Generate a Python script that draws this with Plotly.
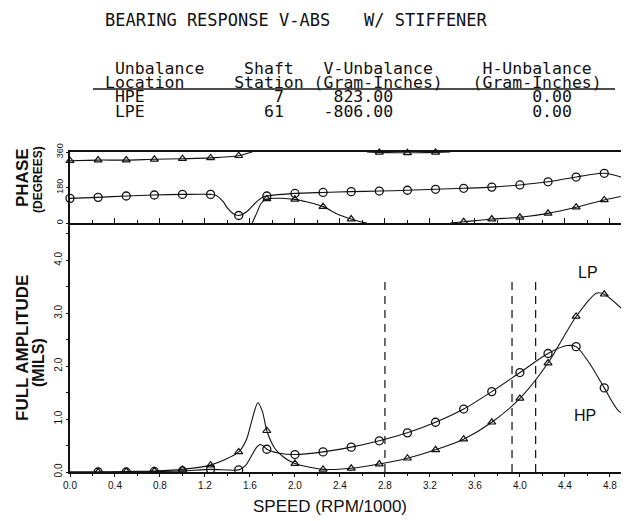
import plotly.graph_objects as go

# ---------------- data ----------------
# phase panel markers (speed in RPM/1000)
phase_marker_speed = [0.0, 0.25, 0.5, 0.75, 1.0, 1.25, 1.5, 1.75, 2.0, 2.25, 2.5,
                      2.75, 3.0, 3.25, 3.5, 3.75, 4.0, 4.25, 4.5, 4.75]
hp_phase_markers = [125, 130, 137, 142, 145, 145, 38, 137, 150, 155, 159,
                    162, 166, 171, 176, 182, 193, 209, 233, 252]
lp_phase_markers = [316, 319, 319, 323, 326, 330, 341, 122, 120, 83, 20,
                    358, 356, 358, 6, 20, 29, 49, 80, 117]

# phase curves
hp_phase_curve_speed = [0.0, 0.25, 0.5, 0.75, 1.0, 1.25, 1.3, 1.36, 1.4, 1.45, 1.5, 1.57,
                        1.66, 1.72, 1.75, 2.0, 2.25, 2.5, 2.75, 3.0, 3.25, 3.5, 3.75, 4.0,
                        4.25, 4.5, 4.62, 4.75, 4.86, 4.97]
hp_phase_curve = [125, 130, 137, 142, 145, 145, 140, 110, 75, 48, 38, 57,
                  108, 133, 137, 150, 155, 159, 162, 166, 171, 176, 182, 193,
                  209, 233, 245, 252, 240, 218]
lp_phase_curve_speed = [0.0, 0.25, 0.5, 0.75, 1.0, 1.25, 1.5, 1.57, 1.62, None,
                        1.62, 1.66, 1.7, 1.75, 2.0, 2.12, 2.25, 2.38, 2.5, 2.58, 2.64, None,
                        2.64, 2.75, 3.0, 3.25, 3.38, None,
                        3.38, 3.5, 3.75, 4.0, 4.25, 4.5, 4.75, 4.97]
lp_phase_curve = [316, 319, 319, 323, 326, 330, 341, 352, 360, None,
                  0, 50, 100, 122, 120, 105, 83, 45, 20, 6, 0, None,
                  360, 358, 356, 358, 360, None,
                  0, 6, 20, 29, 49, 80, 117, 142]

# amplitude panel markers
amp_marker_speed = [0.25, 0.5, 0.75, 1.0, 1.25, 1.5, 1.75, 2.0, 2.25, 2.5,
                    2.75, 3.0, 3.25, 3.5, 3.75, 4.0, 4.25, 4.5, 4.75, 5.0]
hp_amp_markers = [0.0, 0.0, 0.01, 0.02, 0.05, 0.04, 0.43, 0.33, 0.38, 0.47,
                  0.59, 0.74, 0.94, 1.19, 1.52, 1.88, 2.24, 2.37, 1.59, 1.03]
lp_amp_markers = [0.0, 0.01, 0.02, 0.05, 0.13, 0.38, 0.78, 0.16, 0.05, 0.07,
                  0.15, 0.26, 0.42, 0.62, 0.94, 1.39, 2.06, 2.94, 3.36, 2.89]

# amplitude curves
hp_amp_curve_speed = [0.0, 0.25, 0.5, 0.75, 1.0, 1.25, 1.5, 1.56, 1.62, 1.66, 1.69, 1.72,
                      1.75, 1.85, 2.0, 2.25, 2.5, 2.75, 3.0, 3.25, 3.5, 3.75, 4.0, 4.25,
                      4.42, 4.5, 4.62, 4.75, 4.88, 5.0]
hp_amp_curve = [0.0, 0.0, 0.0, 0.01, 0.02, 0.05, 0.04, 0.12, 0.33, 0.47, 0.52, 0.49,
                0.43, 0.36, 0.33, 0.38, 0.47, 0.59, 0.74, 0.94, 1.19, 1.52, 1.88, 2.24,
                2.39, 2.37, 2.05, 1.59, 1.15, 1.03]
lp_amp_curve_speed = [0.0, 0.25, 0.5, 0.75, 1.0, 1.25, 1.5, 1.57, 1.62, 1.67, 1.71, 1.75,
                      1.82, 1.9, 2.0, 2.25, 2.5, 2.75, 3.0, 3.25, 3.5, 3.75, 4.0, 4.25,
                      4.5, 4.68, 4.75, 5.0]
lp_amp_curve = [0.0, 0.0, 0.01, 0.02, 0.05, 0.13, 0.38, 0.62, 1.0, 1.31, 1.15, 0.78,
                0.45, 0.28, 0.16, 0.05, 0.07, 0.15, 0.26, 0.42, 0.62, 0.94, 1.39, 2.06,
                2.94, 3.38, 3.36, 2.89]

critical_speeds = [2.80, 3.93, 4.14]
critical_top = 3.69

# table text: (character column, text) per line
table_header1 = [(1, "Unbalance"), (14, "Shaft"), (22, "V-Unbalance"), (38, "H-Unbalance")]
table_header2 = [(0, "Location"), (13, "Station"), (21, "(Gram-Inches)"), (37, "(Gram-Inches)")]
table_row_hpe = [(1, "HPE"), (17, "7"), (23, "823.00"), (43, "0.00")]
table_row_lpe = [(1, "LPE"), (16, "61"), (22, "-806.00"), (43, "0.00")]

x_tick_vals = [0.0, 0.4, 0.8, 1.2, 1.6, 2.0, 2.4, 2.8, 3.2, 3.6, 4.0, 4.4, 4.8]
amp_tick_vals = [0.0, 1.0, 2.0, 3.0, 4.0]
phase_tick_vals = [0, 180, 360]

# ---------------- layout helpers ----------------
OFF = 8                      # page body margin offset
FW, FH = 629 - OFF, 521 - OFF
L = 70 - OFF
T = 152 - OFF
PLOT_BOTTOM = 472 - OFF
B = FH - PLOT_BOTTOM
PW, PH = FW - L, PLOT_BOTTOM - T
AMP_TOP = 223 - OFF
split = (PLOT_BOTTOM - AMP_TOP) / PH
AMP_PX_PER_UNIT = 52.9


def P(x, y):
    """reference pixel -> paper coords"""
    return dict(x=(x - OFF - L) / PW, y=(PLOT_BOTTOM - (y - OFF)) / PH,
                xref="paper", yref="paper")


MONO = "DejaVu Sans Mono"
SANS = "Liberation Sans"
INK = "#111111"
NB = "\u00a0"

fig = go.Figure()

line_style = dict(color=INK, width=1.1, shape="spline", smoothing=0.8)
circ = dict(symbol="circle-open", size=8, color=INK, line=dict(width=1.3, color=INK))
tri = dict(symbol="triangle-up-open", size=7, color=INK, line=dict(width=1.2, color=INK))

fig.add_trace(go.Scatter(x=hp_phase_curve_speed, y=hp_phase_curve, mode="lines",
                         line=line_style, xaxis="x", yaxis="y", connectgaps=False))
fig.add_trace(go.Scatter(x=lp_phase_curve_speed, y=lp_phase_curve, mode="lines",
                         line=line_style, xaxis="x", yaxis="y", connectgaps=False))
fig.add_trace(go.Scatter(x=phase_marker_speed, y=hp_phase_markers, mode="markers",
                         marker=circ, xaxis="x", yaxis="y", cliponaxis=False))
fig.add_trace(go.Scatter(x=phase_marker_speed, y=lp_phase_markers, mode="markers",
                         marker=tri, xaxis="x", yaxis="y", cliponaxis=False))

fig.add_trace(go.Scatter(x=hp_amp_curve_speed, y=hp_amp_curve, mode="lines",
                         line=line_style, xaxis="x2", yaxis="y2"))
fig.add_trace(go.Scatter(x=lp_amp_curve_speed, y=lp_amp_curve, mode="lines",
                         line=line_style, xaxis="x2", yaxis="y2"))
fig.add_trace(go.Scatter(x=amp_marker_speed, y=hp_amp_markers, mode="markers",
                         marker=circ, xaxis="x2", yaxis="y2"))
fig.add_trace(go.Scatter(x=amp_marker_speed, y=lp_amp_markers, mode="markers",
                         marker=tri, xaxis="x2", yaxis="y2"))

shapes = []
for cs in critical_speeds:
    shapes.append(dict(type="line", xref="x2", yref="y2", x0=cs, x1=cs, y0=0, y1=critical_top,
                       line=dict(color=INK, width=1.2, dash="8px,6px")))
p0, p1 = P(93, 89), P(615, 89)
shapes.append(dict(type="line", xref="paper", yref="paper", x0=p0["x"], x1=p1["x"],
                   y0=p0["y"], y1=p1["y"], line=dict(color=INK, width=1.3)))

ann = []


def text(s, x, y, size, family=MONO, anchor="center", angle=0, align="center"):
    d = P(x, y)
    d.update(text=s, showarrow=False, xanchor=anchor, yanchor="middle", align=align,
             font=dict(family=family, size=size, color=INK), textangle=angle)
    ann.append(d)


def mono_line(items):
    s = ""
    for col, word in items:
        s += NB * max(col - len(s), 0) + word
    return s


text("BEARING RESPONSE V-ABS", 103, 20, 17, anchor="left")
text("W/ STIFFENER", 362, 20, 17, anchor="left")

# table: one block, mono font, fixed line pitch via small base size
pitch = 14.2
base = pitch / 1.3
tbl_lines = [mono_line(r) for r in (table_header1, table_header2, table_row_hpe, table_row_lpe)]
tbl = "<br>".join('<span style="font-size:16.5px">' + ln + "</span>" for ln in tbl_lines)
text(tbl, 103, 90.3, base, anchor="left", align="left")

text("<b>PHASE</b>", 22, 178, 17, family=SANS, angle=-90)
text("<b>(DEGREES)</b>", 38, 180, 12, family=SANS, angle=-90)
text("<b>FULL AMPLITUDE</b>", 22, 348, 17, family=SANS, angle=-90)
text("<b>(MILS)</b>", 38, 363, 16, family=SANS, angle=-90)
text("SPEED (RPM/1000)", 330, 506, 17, family=SANS)
text("LP", 588, 272, 16, family=SANS)
text("HP", 585, 415, 16, family=SANS)

tickfont = dict(family=SANS, size=10, color=INK)
xr = [0, 4.97]

fig.update_layout(
    width=FW, height=FH,
    margin=dict(l=L, r=0, t=T, b=B, pad=0),
    paper_bgcolor="white", plot_bgcolor="white",
    showlegend=False,
    shapes=shapes, annotations=ann,
    xaxis=dict(domain=[0, 1], range=xr, anchor="y", showgrid=False, zeroline=False,
               showline=True, linecolor=INK, linewidth=1.6, mirror=True,
               ticks="inside", ticklen=5, tickcolor=INK, tickwidth=1.2,
               tickvals=x_tick_vals, showticklabels=False,
               minor=dict(dtick=0.2, ticks="inside", ticklen=3, tickcolor=INK)),
    yaxis=dict(domain=[split, 1], range=[0, 360], anchor="x", showgrid=False, zeroline=False,
               showline=True, linecolor=INK, linewidth=1.8,
               ticks="outside", ticklen=2, tickcolor=INK,
               tickvals=phase_tick_vals, tickangle=-90,
               tickfont=dict(family=SANS, size=9, color=INK)),
    xaxis2=dict(domain=[0, 1], range=xr, anchor="y2", showgrid=False, zeroline=False,
                showline=True, linecolor=INK, linewidth=1.6,
                ticks="outside", ticklen=3, tickcolor=INK, tickwidth=1.2,
                tickvals=x_tick_vals, tickformat=".1f", tickfont=tickfont,
                minor=dict(dtick=0.2, ticks="outside", ticklen=2, tickcolor=INK)),
    yaxis2=dict(domain=[0, split], range=[0, (PLOT_BOTTOM - AMP_TOP) / AMP_PX_PER_UNIT],
                anchor="x2", showgrid=False, zeroline=False,
                showline=True, linecolor=INK, linewidth=1.8,
                ticks="outside", ticklen=2, tickcolor=INK,
                tickvals=amp_tick_vals, tickformat=".1f", tickangle=-90, tickfont=tickfont,
                minor=dict(dtick=0.5, ticks="outside", ticklen=2, tickcolor=INK)),
)

fig.write_html("out.html")
